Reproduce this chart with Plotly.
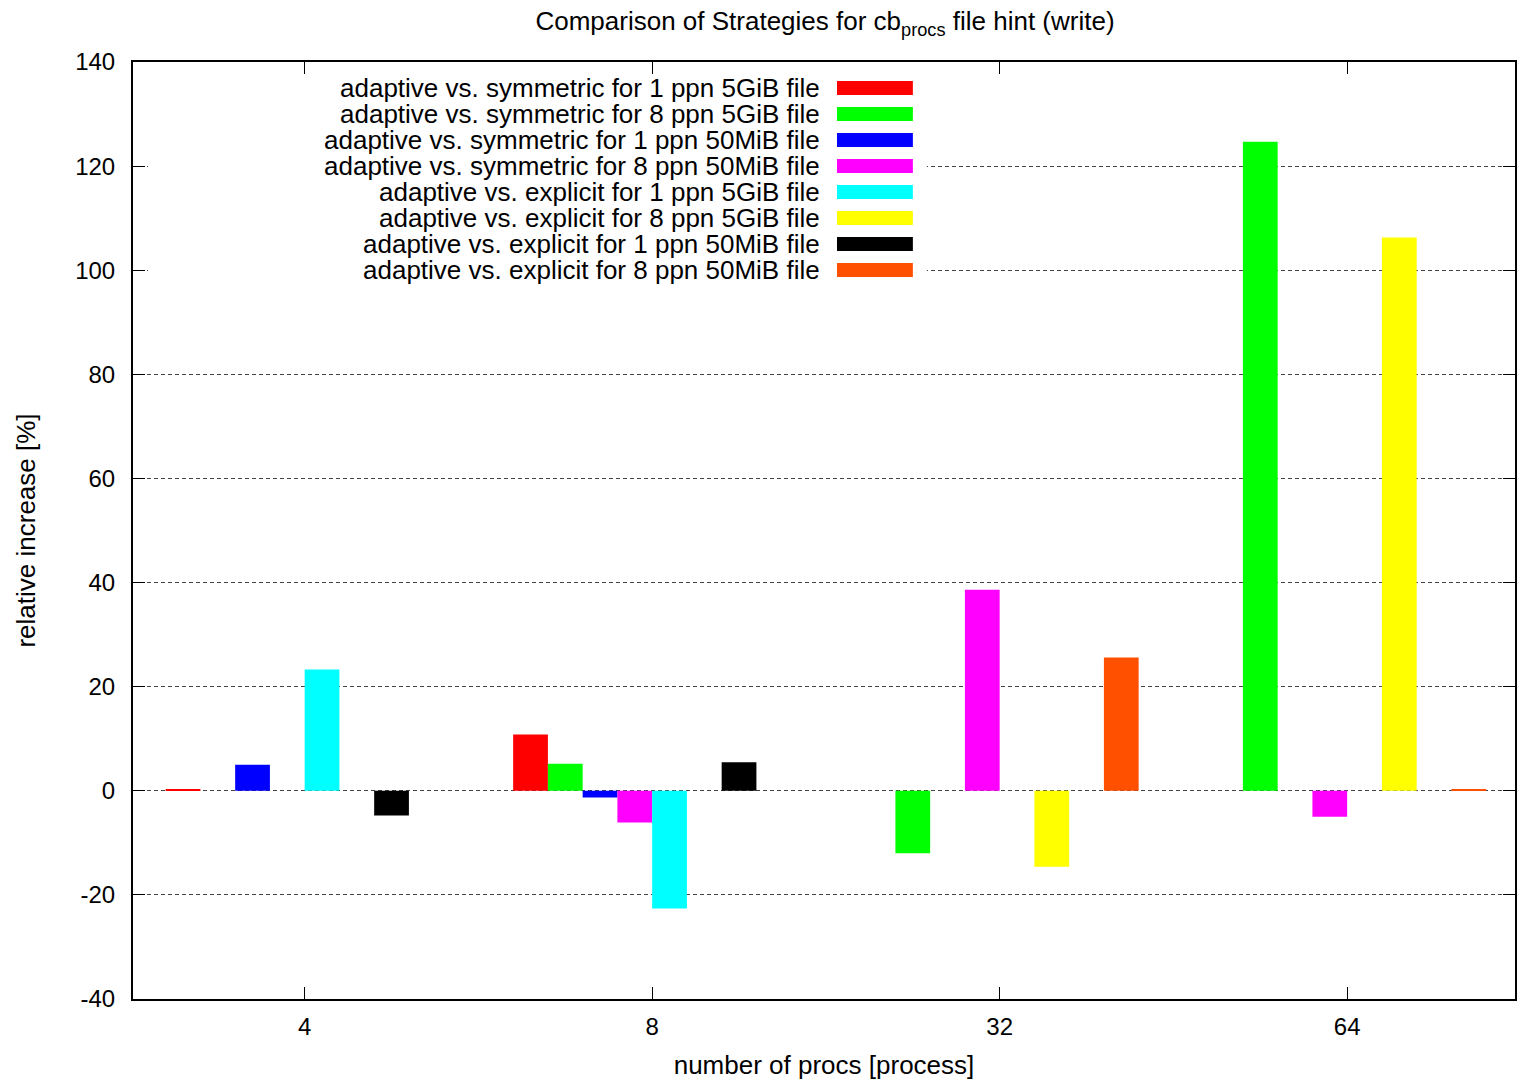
import plotly.graph_objects as go

# Process counts on the x axis
categories = ["4", "8", "32", "64"]

# Relative increase [%] per comparison; None = no measurement
series_names = [
    "adaptive vs. symmetric for 1 ppn 5GiB file",
    "adaptive vs. symmetric for 8 ppn 5GiB file",
    "adaptive vs. symmetric for 1 ppn 50MiB file",
    "adaptive vs. symmetric for 8 ppn 50MiB file",
    "adaptive vs. explicit for 1 ppn 5GiB file",
    "adaptive vs. explicit for 8 ppn 5GiB file",
    "adaptive vs. explicit for 1 ppn 50MiB file",
    "adaptive vs. explicit for 8 ppn 50MiB file",
]
sym_1ppn_5gib = [0.25, 10.8, None, None]
sym_8ppn_5gib = [None, 5.2, -12.0, 124.7]
sym_1ppn_50mib = [5.0, -1.3, None, None]
sym_8ppn_50mib = [None, -6.1, 38.6, -5.0]
exp_1ppn_5gib = [23.3, -22.6, None, None]
exp_8ppn_5gib = [None, None, -14.6, 106.3]
exp_1ppn_50mib = [-4.75, 5.5, None, None]
exp_8ppn_50mib = [None, None, 25.6, 0.25]

series_values = [
    sym_1ppn_5gib, sym_8ppn_5gib, sym_1ppn_50mib, sym_8ppn_50mib,
    exp_1ppn_5gib, exp_8ppn_5gib, exp_1ppn_50mib, exp_8ppn_50mib,
]
colors = ["#ff0000", "#00ff00", "#0000ff", "#ff00ff",
          "#00ffff", "#ffff00", "#000000", "#ff5000"]

# y tick values and labels (plain hyphen for negatives)
y_ticks = [-40, -20, 0, 20, 40, 60, 80, 100, 120, 140]
y_tick_labels = [str(v) for v in y_ticks]

FONT = "Liberation Sans, Arial, sans-serif"
W, H = 1518, 1081
L, R, T, B = 133, 1, 62, 82
PW, PH = W - L - R, H - T - B

x_pos = list(range(len(categories)))

fig = go.Figure()
for name, vals, col in zip(series_names, series_values, colors):
    fig.add_trace(go.Bar(
        x=x_pos, y=vals, name=name,
        marker=dict(color=col, line=dict(width=0)),
        showlegend=False,
    ))


def px_x(px):
    return (px - L) / PW


def px_y(py):
    return (H - B - py) / PH


shapes = [
    # white key box hiding the grid behind the key
    dict(type="rect", xref="paper", yref="paper",
         x0=px_x(148), x1=px_x(928), y0=px_y(284), y1=px_y(T + 14),
         fillcolor="white", line=dict(width=0), layer="above"),
]
annotations = []
row0, row_step = 88, 26
for i, (name, col) in enumerate(zip(series_names, colors)):
    yc = row0 + i * row_step
    annotations.append(dict(
        text=name, xref="paper", yref="paper",
        x=px_x(823), y=px_y(yc), xanchor="right", yanchor="middle",
        showarrow=False, font=dict(family=FONT, size=26, color="#000"),
    ))
    shapes.append(dict(
        type="rect", xref="paper", yref="paper",
        x0=px_x(838), x1=px_x(914), y0=px_y(yc + 7), y1=px_y(yc - 7),
        fillcolor=col, line=dict(width=0), layer="above",
    ))

fig.update_layout(
    width=W, height=H,
    margin=dict(l=L, r=R, t=T, b=B),
    paper_bgcolor="white", plot_bgcolor="white",
    barmode="group", bargap=0.2, bargroupgap=0,
    font=dict(family=FONT, size=20, color="#000"),
    title=dict(
        text="Comparison of Strategies for cb<sub>procs</sub> file hint (write)",
        x=(L + PW / 2) / W, xanchor="center", y=1 - 21 / H, yanchor="middle",
        font=dict(family=FONT, size=26, color="#000"),
    ),
    shapes=shapes,
    annotations=annotations,
)

fig.update_xaxes(
    range=[-0.494, 3.483],
    tickmode="array", tickvals=x_pos, ticktext=categories,
    ticks="inside", ticklen=12, tickcolor="#000", tickwidth=1,
    showline=True, linecolor="#000", linewidth=2, mirror="allticks",
    showgrid=False, zeroline=False,
    tickfont=dict(family=FONT, size=24), ticklabelstandoff=5,
    title=dict(text="number of procs [process]", font=dict(family=FONT, size=26), standoff=17),
)
fig.update_yaxes(
    range=[-40, 140],
    tickmode="array", tickvals=y_ticks, ticktext=y_tick_labels,
    ticks="inside", ticklen=12, tickcolor="#000", tickwidth=1,
    showline=True, linecolor="#000", linewidth=2, mirror="allticks",
    showgrid=True, gridcolor="#444", gridwidth=1, griddash="4px,3px",
    zeroline=False,
    tickfont=dict(family=FONT, size=24), ticklabelstandoff=11,
    title=dict(text="relative increase [%]", font=dict(family=FONT, size=26), standoff=32),
)

fig.write_html("out.html")
